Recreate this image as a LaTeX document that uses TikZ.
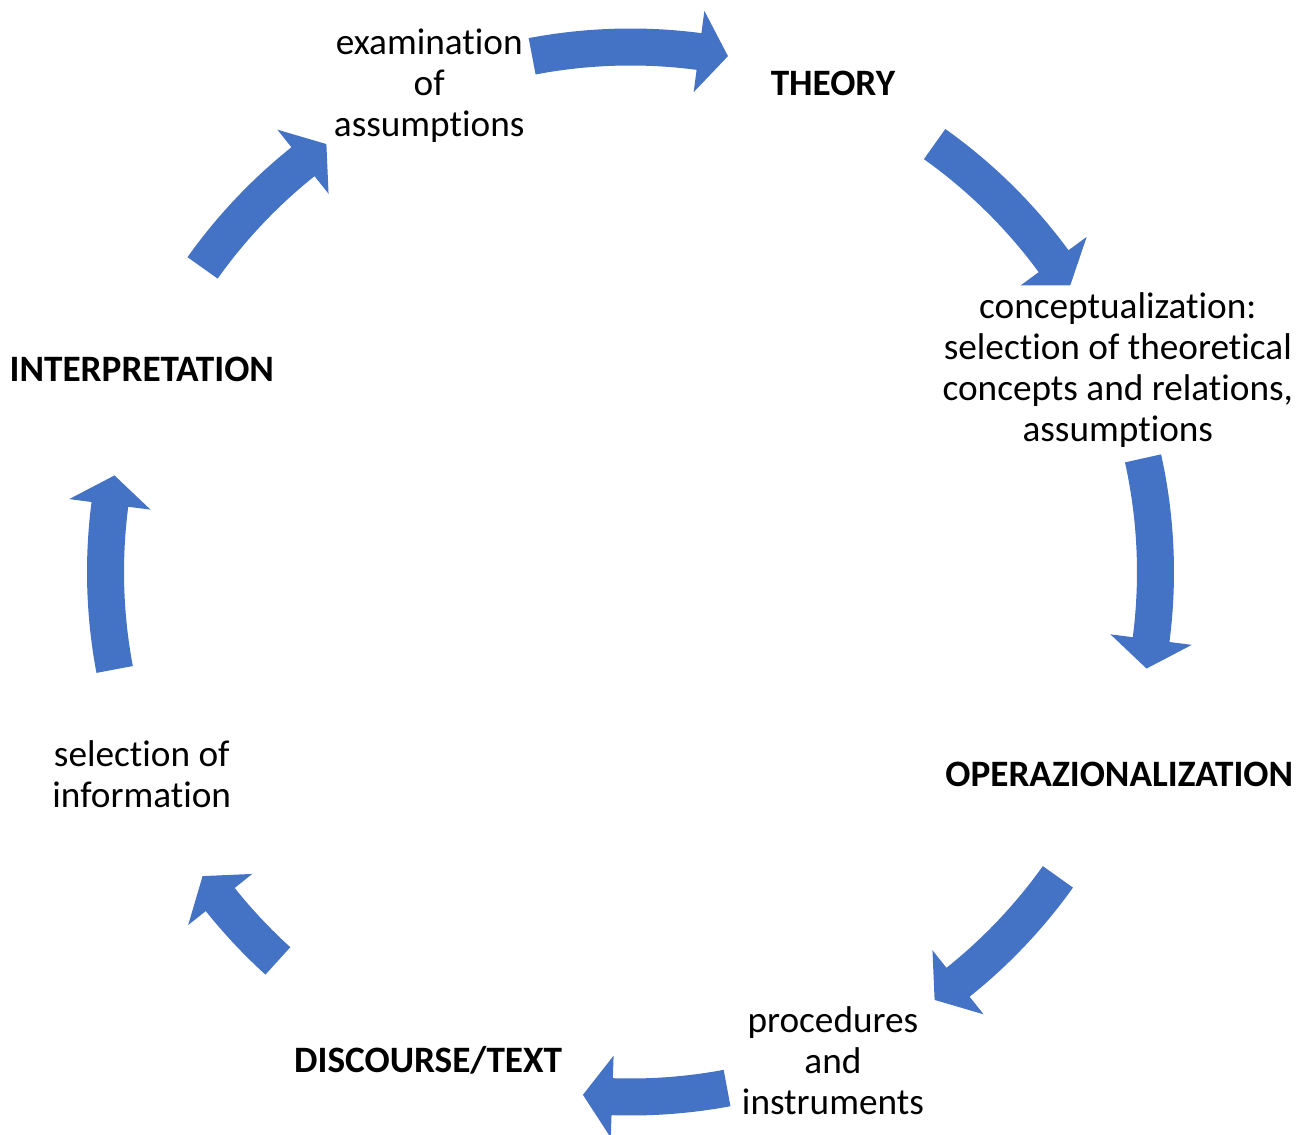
\documentclass[tikz,border=0pt]{standalone}
\usepackage{fontspec}
\setmainfont{Carlito}[RawFeature={-liga;-clig;-calt;-dlig}]
\usepackage{tikz}
\usepackage{xcolor}
\definecolor{cycleblue}{HTML}{4472C4}

% curved block arrow on the cycle: #1 tail angle, #2 tip angle
\newcommand{\cyclearrow}[2]{%
	\fill[cycleblue] (#1:10.13) arc[start angle=#1, end angle=#2+3.2, radius=10.13]
		-- ({#2+3.2}:9.68) -- (#2:10.5) -- ({#2+3.2}:11.32) -- ({#2+3.2}:10.87)
		arc[start angle=#2+3.2, end angle=#1, radius=10.87] -- cycle;
}

\begin{document}
\begin{tikzpicture}[
	note/.style={font=\fontsize{21.2pt}{23.4pt}\selectfont, align=center, inner sep=0pt},
	phase/.style={note, font=\fontsize{21.2pt}{23.4pt}\selectfont\bfseries}]
	\useasboundingbox (-12.61,-11.26) rectangle (13.61,11.44);
	\coordinate (c) at (0,0);
	\node[note] (exam) at (112.5:10.52) {examination\\of\\assumptions};
	\node[phase] (theory) at (67.5:10.58) {THEORY};
	\node[note] (concept) at (22.5:10.55) {conceptualization:\\selection of theoretical\\concepts and relations,\\assumptions};
	\node[phase] (oper) at (-22.5:10.58) {OPERAZIONALIZATION};
	\node[note] (proc) at (-67.5:10.58) {procedures\\and\\instruments};
	\node[phase] (disc) at (-112.5:10.58) {DISCOURSE/TEXT};
	\node[note] (select) at (-157.5:10.58) {selection of\\information};
	\node[phase] (interp) at (157.5:10.58) {INTERPRETATION};
	\cyclearrow{100.8}{79.3}
	\cyclearrow{54.6}{33.1}
	\cyclearrow{12.5}{-10.6}
	\cyclearrow{-35.5}{-54.6}
	\cyclearrow{-79.4}{-95.2}
	\cyclearrow{-132.2}{-144.6}
	\cyclearrow{-169.3}{-190.6}
	\cyclearrow{-215.4}{-234.6}
\end{tikzpicture}
\end{document}
